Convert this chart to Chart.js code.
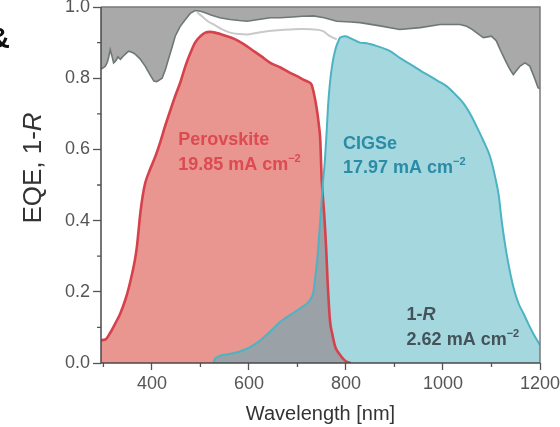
<!DOCTYPE html>
<html>
<head>
<meta charset="utf-8">
<script src="https://cdn.jsdelivr.net/npm/chart.js@4/dist/chart.umd.min.js"></script>
<style>
  html, body { margin: 0; padding: 0; background: #fff; }
  #wrap { width: 560px; height: 427px; position: relative; }
</style>
</head>
<body>
<div id="wrap"><canvas id="c"></canvas></div>
<script>
// Perovskite top-cell EQE
const perovskiteWl  = [295, 304, 314, 324, 335, 345, 352, 359, 365, 369, 376, 381, 386, 395, 407, 417, 427, 438, 448, 459, 469, 479, 489, 500, 510, 520, 530, 550, 572, 590, 606, 625, 644, 665, 685, 700, 712, 722, 729, 735, 740, 744, 747, 750, 755, 759, 762, 767, 772, 778, 785, 791, 797, 802, 810];
const perovskiteEqe = [0.064, 0.066, 0.085, 0.11, 0.14, 0.177, 0.21, 0.25, 0.29, 0.327, 0.42, 0.47, 0.505, 0.54, 0.58, 0.62, 0.665, 0.71, 0.75, 0.79, 0.834, 0.87, 0.90, 0.918, 0.928, 0.93, 0.928, 0.92, 0.909, 0.895, 0.88, 0.862, 0.843, 0.83, 0.815, 0.805, 0.796, 0.79, 0.782, 0.75, 0.712, 0.67, 0.627, 0.515, 0.42, 0.327, 0.233, 0.12, 0.08, 0.045, 0.028, 0.017, 0.008, 0.003, 0];

// CIGSe bottom-cell EQE
const cigseWl  = [527, 530, 560, 596, 620, 645, 664, 685, 705, 726, 733, 736, 740, 743, 748, 752, 756, 760, 763, 767, 772, 778, 783, 788, 798, 810, 829, 843, 864, 891, 911, 939, 955, 973, 990, 1008, 1025, 1042, 1056, 1069, 1083, 1097, 1108, 1115, 1121, 1131, 1145, 1155, 1166, 1176, 1186, 1200];
const cigseEqe = [0, 0.012, 0.025, 0.04, 0.06, 0.09, 0.115, 0.135, 0.153, 0.177, 0.20, 0.233, 0.28, 0.327, 0.42, 0.50, 0.56, 0.646, 0.72, 0.787, 0.84, 0.88, 0.90, 0.914, 0.918, 0.912, 0.90, 0.898, 0.89, 0.876, 0.857, 0.834, 0.82, 0.806, 0.792, 0.777, 0.755, 0.73, 0.70, 0.665, 0.625, 0.58, 0.52, 0.47, 0.40, 0.308, 0.214, 0.17, 0.139, 0.11, 0.083, 0.05];

// 1 - R of the tandem device
const reflWl    = [295, 300, 304, 308, 311, 314, 318, 321, 326, 330, 335, 343, 352, 360, 366, 375, 386, 396, 404, 410, 421, 428, 434, 441, 448, 458, 469, 479, 489, 500, 510, 520, 540, 561, 580, 596, 620, 644, 664, 690, 710, 733, 755, 781, 810, 829, 870, 911, 953, 994, 1035, 1049, 1060, 1069, 1083, 1092, 1100, 1110, 1118, 1125, 1131, 1138, 1145, 1152, 1159, 1169, 1179, 1186, 1190, 1196, 1200];
const oneMinusR = [0.825, 0.83, 0.834, 0.845, 0.86, 0.88, 0.86, 0.843, 0.85, 0.86, 0.853, 0.865, 0.876, 0.872, 0.867, 0.855, 0.834, 0.81, 0.792, 0.79, 0.80, 0.825, 0.853, 0.885, 0.918, 0.945, 0.965, 0.982, 0.99, 0.988, 0.984, 0.978, 0.97, 0.965, 0.962, 0.96, 0.965, 0.97, 0.97, 0.972, 0.974, 0.975, 0.97, 0.96, 0.958, 0.956, 0.947, 0.937, 0.942, 0.951, 0.951, 0.946, 0.937, 0.928, 0.914, 0.916, 0.918, 0.905, 0.88, 0.86, 0.843, 0.825, 0.81, 0.822, 0.834, 0.843, 0.834, 0.81, 0.796, 0.773, 0.77];

// Summed EQE of both sub-cells
const sumWl  = [493, 505, 515, 527, 545, 561, 580, 596, 615, 637, 660, 685, 710, 733, 753, 767, 781];
const sumEqe = [0.985, 0.972, 0.96, 0.951, 0.937, 0.928, 0.924, 0.923, 0.927, 0.932, 0.935, 0.937, 0.938, 0.937, 0.932, 0.918, 0.909];

const xTickValues = [400, 600, 800, 1000, 1200];
const xMinorTicks = [300, 500, 700, 900, 1100];
const yTickValues = [0, 0.2, 0.4, 0.6, 0.8, 1.0];
const yMinorTicks = [0.1, 0.3, 0.5, 0.7, 0.9];

const toPoints = (xs, ys) => xs.map((x, i) => ({ x: x, y: ys[i] }));

const FONT = "'Liberation Sans', Arial, sans-serif";

// Draws a line of text made of styled pieces (bold / italic / superscript)
function drawRich(ctx, x, y, pieces, color, size) {
  let cx = x;
  ctx.fillStyle = color;
  ctx.textBaseline = 'alphabetic';
  ctx.textAlign = 'left';
  for (const p of pieces) {
    const fs = p.sup ? Math.round(size * 0.62) : size;
    ctx.font = (p.italic ? 'italic ' : '') + (p.bold === false ? '' : 'bold ') + fs + 'px ' + FONT;
    ctx.fillText(p.t, cx, p.sup ? y - size * 0.45 : y);
    cx += ctx.measureText(p.t).width;
  }
}

const decorations = {
  id: 'decorations',
  afterDatasetsDraw(chart) {
    const ctx = chart.ctx;
    const a = chart.chartArea;
    const xs = chart.scales.x, ys = chart.scales.y;
    ctx.save();

    // minor tick marks
    ctx.strokeStyle = '#555';
    ctx.lineWidth = 1.3;
    ctx.beginPath();
    for (const v of xMinorTicks) {
      const px = xs.getPixelForValue(v);
      if (px < a.left - 0.5) continue;
      ctx.moveTo(px, a.bottom); ctx.lineTo(px, a.bottom + 4);
    }
    for (const v of yMinorTicks) {
      const py = ys.getPixelForValue(v);
      ctx.moveTo(a.left, py); ctx.lineTo(a.left - 4, py);
    }
    ctx.stroke();

    // frame
    ctx.lineWidth = 1.5;
    ctx.strokeStyle = '#7a7a7a';
    ctx.beginPath();
    ctx.moveTo(a.left, a.top); ctx.lineTo(a.right, a.top); ctx.lineTo(a.right, a.bottom);
    ctx.stroke();
    ctx.strokeStyle = '#4a4a4a';
    ctx.beginPath();
    ctx.moveTo(a.left, a.top); ctx.lineTo(a.left, a.bottom); ctx.lineTo(a.right, a.bottom);
    ctx.stroke();

    // curve annotations
    const at = (wl, v) => [xs.getPixelForValue(wl), ys.getPixelForValue(v)];
    let p = at(454, 0.612);
    drawRich(ctx, p[0], p[1], [{ t: 'Perovskite' }], '#dc4a52', 18);
    p = at(454, 0.542);
    drawRich(ctx, p[0], p[1], [{ t: '19.85 mA cm' }, { t: '\u22122', sup: true }], '#dc4a52', 18);

    p = at(794, 0.601);
    drawRich(ctx, p[0], p[1], [{ t: 'CIGSe' }], '#2a8ca6', 18);
    p = at(794, 0.534);
    drawRich(ctx, p[0], p[1], [{ t: '17.97 mA cm' }, { t: '\u22122', sup: true }], '#2a8ca6', 18);

    p = at(925, 0.121);
    drawRich(ctx, p[0], p[1], [{ t: '1-' }, { t: 'R', italic: true }], '#44525a', 18);
    p = at(925, 0.051);
    drawRich(ctx, p[0], p[1], [{ t: '2.62 mA cm' }, { t: '\u22122', sup: true }], '#44525a', 18);

    // axis titles
    ctx.fillStyle = '#333';
    ctx.font = '20px ' + FONT;
    ctx.textAlign = 'center';
    ctx.textBaseline = 'alphabetic';
    ctx.fillText('Wavelength [nm]', (a.left + a.right) / 2, 420);

    ctx.save();
    ctx.translate(41, 168);
    ctx.rotate(-Math.PI / 2);
    const yt = [{ t: 'EQE, 1-', bold: false }, { t: 'R', italic: true, bold: false }];
    ctx.font = '26px ' + FONT;
    let w = ctx.measureText('EQE, 1-').width;
    ctx.font = 'italic 26px ' + FONT;
    w += ctx.measureText('R').width;
    drawRich(ctx, -w / 2, 0, yt, '#333', 26);
    ctx.restore();

    // panel mark cut by the left edge
    ctx.fillStyle = '#111';
    ctx.font = 'bold 30px ' + FONT;
    ctx.textAlign = 'right';
    ctx.fillText('&', 10, 48);

    ctx.restore();
  }
};

new Chart(document.getElementById('c'), {
  type: 'line',
  data: {
    datasets: [
      {
        label: '1-R',
        data: toPoints(reflWl, oneMinusR),
        fill: 'end',
        backgroundColor: '#a9a9a9',
        borderColor: '#6e7877',
        borderWidth: 1.6,
        tension: 0,
        order: 5
      },
      {
        label: 'Perovskite',
        data: toPoints(perovskiteWl, perovskiteEqe),
        fill: 'origin',
        backgroundColor: '#e99590',
        borderColor: '#d6424c',
        borderWidth: 2.6,
        cubicInterpolationMode: 'monotone',
        order: 4
      },
      {
        label: 'CIGSe',
        data: toPoints(cigseWl, cigseEqe),
        fill: 'origin',
        backgroundColor: 'rgba(75,175,192,0.5)',
        borderColor: '#4db3c3',
        borderWidth: 2,
        cubicInterpolationMode: 'monotone',
        order: 3
      },
      {
        label: 'Sum',
        data: toPoints(sumWl, sumEqe),
        fill: false,
        borderColor: '#c9c9c9',
        borderWidth: 2,
        cubicInterpolationMode: 'monotone',
        order: 2
      }
    ]
  },
  options: {
    responsive: true,
    maintainAspectRatio: false,
    animation: false,
    events: [],
    layout: { padding: { left: 0, top: 7, right: 20, bottom: 0 } },
    elements: { point: { radius: 0 } },
    plugins: {
      legend: { display: false },
      tooltip: { enabled: false },
      filler: { drawTime: 'beforeDatasetsDraw' }
    },
    scales: {
      x: {
        type: 'linear',
        min: 295,
        max: 1200,
        afterBuildTicks: s => { s.ticks = xTickValues.map(v => ({ value: v })); },
        afterFit: s => { s.height = 64; s.paddingLeft = 0; s.paddingRight = 0; },
        grid: { drawOnChartArea: false, drawTicks: true, tickLength: 7, tickWidth: 1.3, tickColor: '#555', color: '#555' },
        border: { display: false },
        ticks: {
          padding: 3,
          color: '#555',
          font: { family: FONT, size: 18 },
          maxRotation: 0,
          autoSkip: false,
          callback: v => String(v)
        }
      },
      y: {
        type: 'linear',
        min: 0,
        max: 1.0,
        afterBuildTicks: s => { s.ticks = yTickValues.map(v => ({ value: v })); },
        afterFit: s => { s.width = 101; s.paddingTop = 0; s.paddingBottom = 0; },
        grid: { drawOnChartArea: false, drawTicks: true, tickLength: 8, tickWidth: 1.3, tickColor: '#555', color: '#555' },
        border: { display: false },
        ticks: {
          padding: 3,
          color: '#555',
          font: { family: FONT, size: 18 },
          autoSkip: false,
          callback: v => v.toFixed(1)
        }
      }
    }
  },
  plugins: [decorations]
});
</script>
</body>
</html>
